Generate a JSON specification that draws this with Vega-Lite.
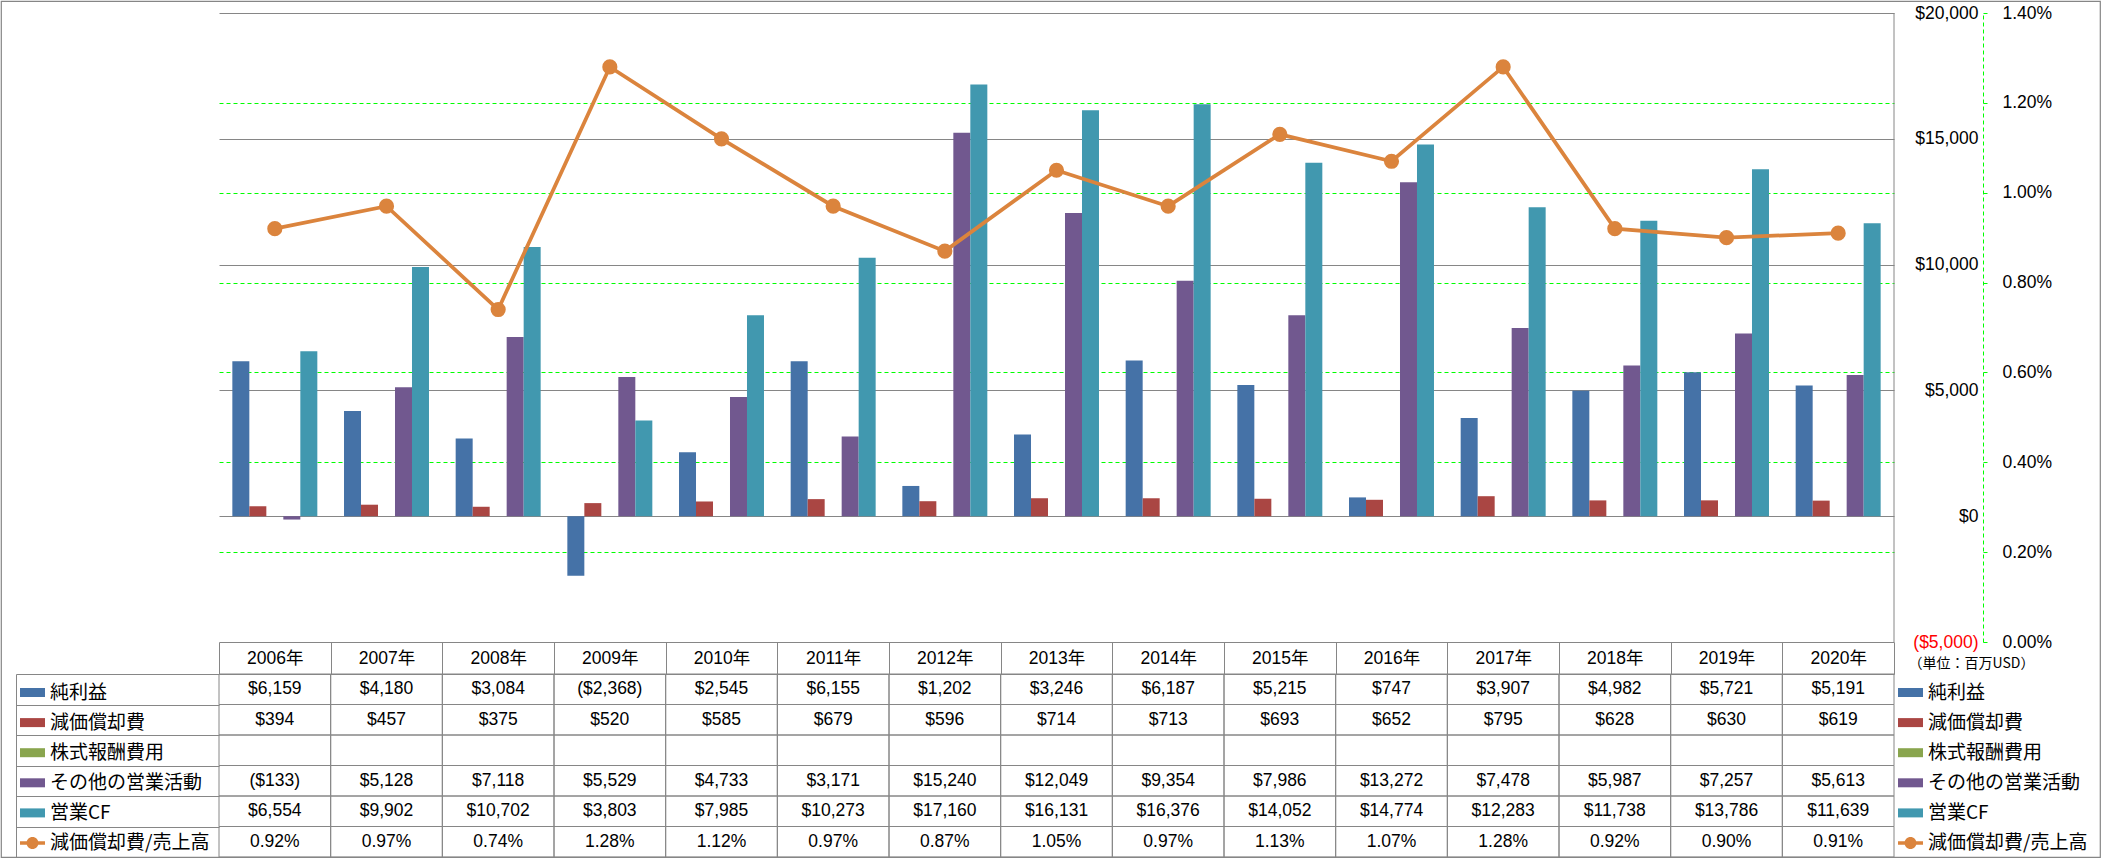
{
  "$schema": "https://vega.github.io/schema/vega-lite/v6.json",
  "width": 2099,
  "height": 856,
  "padding": 1,
  "autosize": "none",
  "background": "white",
  "config": {
    "view": {"stroke": "#868686", "strokeWidth": 1.2, "fill": "white"},
    "font": "Liberation Sans",
    "axis": {"labelFont": "Liberation Sans", "labelFontSize": 17.5, "labelColor": "black", "titleColor": "black", "labelFlush": false, "labelOverlap": false}
  },
  "data": {"values": [
    {"year":"2006","item":"純利益","value":6159},{"year":"2006","item":"減価償却費","value":394},{"year":"2006","item":"株式報酬費用","value":null},{"year":"2006","item":"その他の営業活動","value":-133},{"year":"2006","item":"営業CF","value":6554},{"year":"2006","item":"減価償却費/売上高","value":0.0092},
    {"year":"2007","item":"純利益","value":4180},{"year":"2007","item":"減価償却費","value":457},{"year":"2007","item":"株式報酬費用","value":null},{"year":"2007","item":"その他の営業活動","value":5128},{"year":"2007","item":"営業CF","value":9902},{"year":"2007","item":"減価償却費/売上高","value":0.0097},
    {"year":"2008","item":"純利益","value":3084},{"year":"2008","item":"減価償却費","value":375},{"year":"2008","item":"株式報酬費用","value":null},{"year":"2008","item":"その他の営業活動","value":7118},{"year":"2008","item":"営業CF","value":10702},{"year":"2008","item":"減価償却費/売上高","value":0.0074},
    {"year":"2009","item":"純利益","value":-2368},{"year":"2009","item":"減価償却費","value":520},{"year":"2009","item":"株式報酬費用","value":null},{"year":"2009","item":"その他の営業活動","value":5529},{"year":"2009","item":"営業CF","value":3803},{"year":"2009","item":"減価償却費/売上高","value":0.0128},
    {"year":"2010","item":"純利益","value":2545},{"year":"2010","item":"減価償却費","value":585},{"year":"2010","item":"株式報酬費用","value":null},{"year":"2010","item":"その他の営業活動","value":4733},{"year":"2010","item":"営業CF","value":7985},{"year":"2010","item":"減価償却費/売上高","value":0.0112},
    {"year":"2011","item":"純利益","value":6155},{"year":"2011","item":"減価償却費","value":679},{"year":"2011","item":"株式報酬費用","value":null},{"year":"2011","item":"その他の営業活動","value":3171},{"year":"2011","item":"営業CF","value":10273},{"year":"2011","item":"減価償却費/売上高","value":0.0097},
    {"year":"2012","item":"純利益","value":1202},{"year":"2012","item":"減価償却費","value":596},{"year":"2012","item":"株式報酬費用","value":null},{"year":"2012","item":"その他の営業活動","value":15240},{"year":"2012","item":"営業CF","value":17160},{"year":"2012","item":"減価償却費/売上高","value":0.0087},
    {"year":"2013","item":"純利益","value":3246},{"year":"2013","item":"減価償却費","value":714},{"year":"2013","item":"株式報酬費用","value":null},{"year":"2013","item":"その他の営業活動","value":12049},{"year":"2013","item":"営業CF","value":16131},{"year":"2013","item":"減価償却費/売上高","value":0.0105},
    {"year":"2014","item":"純利益","value":6187},{"year":"2014","item":"減価償却費","value":713},{"year":"2014","item":"株式報酬費用","value":null},{"year":"2014","item":"その他の営業活動","value":9354},{"year":"2014","item":"営業CF","value":16376},{"year":"2014","item":"減価償却費/売上高","value":0.0097},
    {"year":"2015","item":"純利益","value":5215},{"year":"2015","item":"減価償却費","value":693},{"year":"2015","item":"株式報酬費用","value":null},{"year":"2015","item":"その他の営業活動","value":7986},{"year":"2015","item":"営業CF","value":14052},{"year":"2015","item":"減価償却費/売上高","value":0.0113},
    {"year":"2016","item":"純利益","value":747},{"year":"2016","item":"減価償却費","value":652},{"year":"2016","item":"株式報酬費用","value":null},{"year":"2016","item":"その他の営業活動","value":13272},{"year":"2016","item":"営業CF","value":14774},{"year":"2016","item":"減価償却費/売上高","value":0.0107},
    {"year":"2017","item":"純利益","value":3907},{"year":"2017","item":"減価償却費","value":795},{"year":"2017","item":"株式報酬費用","value":null},{"year":"2017","item":"その他の営業活動","value":7478},{"year":"2017","item":"営業CF","value":12283},{"year":"2017","item":"減価償却費/売上高","value":0.0128},
    {"year":"2018","item":"純利益","value":4982},{"year":"2018","item":"減価償却費","value":628},{"year":"2018","item":"株式報酬費用","value":null},{"year":"2018","item":"その他の営業活動","value":5987},{"year":"2018","item":"営業CF","value":11738},{"year":"2018","item":"減価償却費/売上高","value":0.0092},
    {"year":"2019","item":"純利益","value":5721},{"year":"2019","item":"減価償却費","value":630},{"year":"2019","item":"株式報酬費用","value":null},{"year":"2019","item":"その他の営業活動","value":7257},{"year":"2019","item":"営業CF","value":13786},{"year":"2019","item":"減価償却費/売上高","value":0.0090},
    {"year":"2020","item":"純利益","value":5191},{"year":"2020","item":"減価償却費","value":619},{"year":"2020","item":"株式報酬費用","value":null},{"year":"2020","item":"その他の営業活動","value":5613},{"year":"2020","item":"営業CF","value":11639},{"year":"2020","item":"減価償却費/売上高","value":0.0091}
  ]},
  "layer": [
    {
      "layer": [
        {
          "transform": [{"filter": "datum.item != '減価償却費/売上高' && isValid(datum.value)"}],
          "mark": {"type": "bar"},
          "encoding": {
            "x": {"field": "year", "type": "ordinal",
              "scale": {"range": [218, 1893], "paddingInner": 0, "paddingOuter": 0},
              "axis": {"orient": "top", "offset": -673, "title": null, "labelExpr": "datum.label ? datum.label + '年' : ''",
                "labelFont": "Liberation Sans, Noto Sans CJK JP", "labelFontSize": 17.5, "labelAngle": 0,
                "labelBaseline": "middle", "labelAlign": "center", "labelPadding": -16,
                "tickBand": "extent", "tickSize": 32, "tickColor": "#868686", "tickWidth": 1,
                "domain": true, "domainColor": "#868686", "domainWidth": 1, "grid": false}},
            "xOffset": {"field": "item", "type": "nominal",
              "scale": {"domain": ["純利益", "減価償却費", "株式報酬費用", "その他の営業活動", "営業CF"], "paddingInner": 0, "paddingOuter": 0.785}},
            "y": {"field": "value", "type": "quantitative",
              "scale": {"domain": [-5000, 20000], "range": [641, 12], "nice": false, "zero": false},
              "axis": {"orient": "left", "offset": -1977, "values": [-5000, 0, 5000, 10000, 15000, 20000],
                "labelExpr": "datum.value < 0 ? '($' + format(-datum.value, ',') + ')' : '$' + format(datum.value, ',')",
                "labelColor": {"condition": {"test": "datum.value < 0", "value": "#FF0000"}, "value": "black"},
                "labelAlign": "right", "labelBaseline": "middle", "labelPadding": 0, "ticks": false, "tickSize": 0,
                "domain": false, "grid": true, "gridColor": "#868686", "gridWidth": 1,
                "title": "（単位：百万USD）", "titleAngle": 0, "titleX": -7, "titleY": 662, "titleAlign": "center",
                "titleBaseline": "middle", "titleFont": "Noto Sans CJK JP", "titleFontSize": 14, "titleFontWeight": "normal"}},
            "color": {"field": "item", "type": "nominal",
              "scale": {"domain": ["純利益", "減価償却費", "株式報酬費用", "その他の営業活動", "営業CF", "減価償却費/売上高"],
                "range": ["#4572A7", "#AA4643", "#89A54E", "#71588F", "#4198AF", "#DB843D"]},
              "legend": {"orient": "none", "legendX": 1897, "legendY": 679, "title": null, "direction": "vertical", "columns": 1,
                "symbolType": "M-1,-0.36H1V0.36H-1Z", "symbolSize": 625, "symbolStrokeWidth": 0,
                "labelFont": "Noto Sans CJK JP", "labelFontSize": 19, "labelColor": "black", "labelOffset": 5, "labelLimit": 400,
                "rowPadding": 7.1, "padding": 0, "offset": 0,
                "encoding": {"symbols": {
                  "shape": {"condition": {"test": "datum.label == '減価償却費/売上高'", "value": "M-1,-0.14H1V0.14H-1Z M0.48,0 A0.48,0.48 0 1,1 -0.48,0 A0.48,0.48 0 1,1 0.48,0 Z"}, "value": "M-1,-0.36H1V0.36H-1Z"},
                  "strokeWidth": {"value": 0}, "opacity": {"value": 1}, "fillOpacity": {"value": 1}}}}}
          }
        },
        {
          "data": {"values": [{"k": 1}]},
          "mark": {"type": "rule", "color": "#868686", "strokeWidth": 1},
          "encoding": {
            "x": {"datum": "2020", "type": "ordinal", "bandPosition": 1},
            "y": {"datum": -5000, "type": "quantitative"},
            "y2": {"datum": 20000}
          }
        }
      ]
    },
    {
      "transform": [{"filter": "datum.item == '減価償却費/売上高'"}],
      "encoding": {
        "x": {"field": "year", "type": "ordinal"},
        "y": {"field": "value", "type": "quantitative",
          "scale": {"domain": [0, 0.014], "range": [641, 12], "nice": false, "zero": false},
          "axis": {"orient": "left", "offset": -1982, "values": [0, 0.002, 0.004, 0.006, 0.008, 0.01, 0.012, 0.014],
            "format": ".2%", "labelAlign": "left", "labelBaseline": "middle", "labelPadding": -15,
            "ticks": true, "tickSize": -4, "tickColor": "#00FF00", "tickWidth": 1,
            "domain": true, "domainColor": "#00FF00", "domainDash": [4, 3], "domainWidth": 1,
            "grid": true, "gridColor": {"condition": {"test": "datum.value == 0 || datum.value == 0.014", "value": "transparent"}, "value": "#00FF00"},
            "gridDash": [4, 3], "gridWidth": 1, "title": null}}
      },
      "layer": [
        {"mark": {"type": "line", "color": "#DB843D", "strokeWidth": 3.75}},
        {"mark": {"type": "point", "filled": true, "color": "#DB843D", "size": 230, "opacity": 1}}
      ]
    },
    {
      "transform": [{"calculate": "!isValid(datum.value) ? '' : (datum.item == '減価償却費/売上高' ? format(datum.value, '.2%') : (datum.value < 0 ? '($' + format(-datum.value, ',') + ')' : '$' + format(datum.value, ',')))", "as": "label"}],
      "encoding": {
        "x": {"field": "year", "type": "ordinal"},
        "y": {"field": "item", "type": "nominal",
          "scale": {"domain": ["純利益", "減価償却費", "株式報酬費用", "その他の営業活動", "営業CF", "減価償却費/売上高"], "range": [673, 856], "paddingInner": 0, "paddingOuter": 0},
          "axis": {"orient": "right", "offset": -2084, "labels": false, "ticks": true, "tickBand": "extent", "tickSize": 203,
            "tickColor": "#868686", "tickWidth": 1, "domain": true, "domainColor": "#868686", "domainWidth": 1, "grid": false, "title": null}}
      },
      "layer": [
        {
          "mark": {"type": "rect", "stroke": "#868686", "strokeWidth": 1, "fillOpacity": 0},
          "encoding": {
            "fill": {"field": "item", "type": "nominal",
              "scale": {"domain": ["減価償却費/売上高", "営業CF", "その他の営業活動", "株式報酬費用", "減価償却費", "純利益"],
                "range": ["#DB843D", "#4198AF", "#71588F", "#89A54E", "#AA4643", "#4572A7"]},
              "legend": {"orient": "none", "legendX": 19, "legendY": 679, "title": null, "direction": "vertical", "columns": 1,
                "values": ["純利益", "減価償却費", "株式報酬費用", "その他の営業活動", "営業CF", "減価償却費/売上高"],
                "symbolType": "M-1,-0.36H1V0.36H-1Z", "symbolSize": 625, "symbolStrokeWidth": 0,
                "labelFont": "Noto Sans CJK JP", "labelFontSize": 19, "labelColor": "black", "labelOffset": 5, "labelLimit": 400,
                "rowPadding": 7.1, "padding": 0, "offset": 0,
                "encoding": {"symbols": {
                  "shape": {"condition": {"test": "datum.label == '減価償却費/売上高'", "value": "M-1,-0.14H1V0.14H-1Z M0.48,0 A0.48,0.48 0 1,1 -0.48,0 A0.48,0.48 0 1,1 0.48,0 Z"}, "value": "M-1,-0.36H1V0.36H-1Z"},
                  "strokeWidth": {"value": 0}, "opacity": {"value": 1}, "fillOpacity": {"value": 1}}}}}
          }
        },
        {
          "mark": {"type": "text", "font": "Liberation Sans", "fontSize": 17.5, "color": "black", "baseline": "middle", "align": "center"},
          "encoding": {"text": {"field": "label"}}
        }
      ]
    }
  ],
  "resolve": {"scale": {"y": "independent"}, "axis": {"y": "independent"}}
}
